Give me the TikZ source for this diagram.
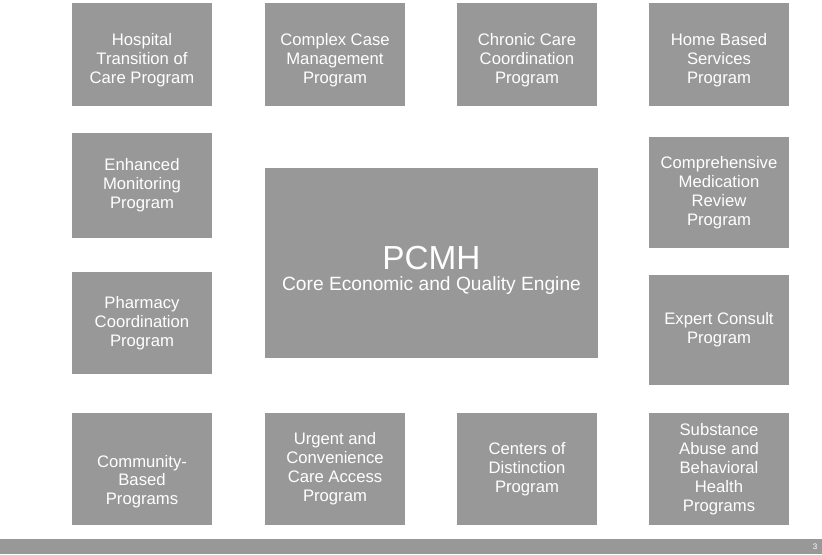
\documentclass[tikz,border=0pt]{standalone}
\usepackage{fontspec}
\setmainfont{Liberation Sans}
\definecolor{boxgray}{RGB}{152,152,152}
\begin{document}
\begin{tikzpicture}[x=0.75pt, y=-0.75pt,
    progtext/.style={text=white, align=center, inner sep=0pt,
        font=\fontsize{12.5}{14.2}\selectfont},
    prog/.style={progtext, fill=boxgray, minimum width=105pt}]
    % Page frame
    \useasboundingbox (0,0) rectangle (822,554);

    % Top row
    \node[prog, minimum height=77pt, label={[progtext, yshift=-4pt]center:{Hospital\\Transition of\\Care Program}}] (hosp) at (142,54.5) {};
    \node[prog, minimum height=77pt, label={[progtext, yshift=-4pt]center:{Complex Case\\Management\\Program}}] (cplx) at (335,54.5) {};
    \node[prog, minimum height=77pt, label={[progtext, yshift=-4pt]center:{Chronic Care\\Coordination\\Program}}] (chron) at (527,54.5) {};
    \node[prog, minimum height=77pt, label={[progtext, yshift=-4pt]center:{Home Based\\Services\\Program}}] (home) at (719,54.5) {};

    % Left column
    \node[prog, minimum height=79pt] (enh) at (142,185.5) {Enhanced\\Monitoring\\Program};
    \node[prog, minimum height=76.5pt] (pharm) at (142,323) {Pharmacy\\Coordination\\Program};

    % Right column
    \node[prog, minimum height=83pt] (cmr) at (719,192.5) {Comprehensive\\Medication\\Review\\Program};
    \node[prog, minimum height=82.5pt] (expert) at (719,330) {Expert Consult\\Program};

    % Core engine
    \node[prog, minimum width=250pt, minimum height=142.5pt, label={[progtext, yshift=-5.5pt]center:{{\fontsize{25}{28}\selectfont PCMH}\\[2pt]{\fontsize{14.4}{16}\selectfont Core Economic and Quality Engine}}}] (pcmh) at (431.5,263) {};

    % Bottom row
    \node[prog, minimum height=84pt, label={[progtext, yshift=-9.5pt]center:{Community-\\Based\\Programs}}] (comm) at (142,469) {};
    \node[prog, minimum height=84pt] (urgent) at (335,469) {Urgent and\\Convenience\\Care Access\\Program};
    \node[prog, minimum height=84pt] (coe) at (527,469) {Centers of\\Distinction\\Program};
    \node[prog, minimum height=84pt] (subst) at (719,469) {Substance\\Abuse and\\Behavioral\\Health\\Programs};

    % Footer bar
    \fill[boxgray] (0,539) rectangle (822,554);
    \node[text=white, font=\fontsize{6}{7}\selectfont, inner sep=0pt] (pagenum) at (815,546.5) {3};
\end{tikzpicture}
\end{document}
